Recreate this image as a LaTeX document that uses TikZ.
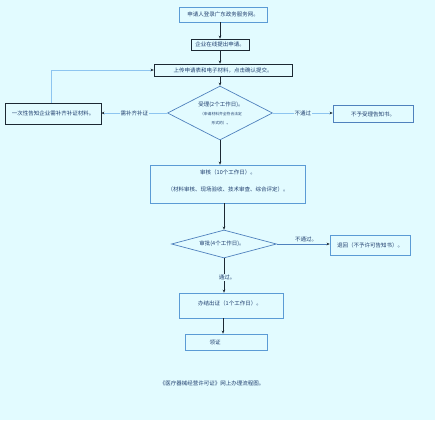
\documentclass[tikz,border=0pt]{standalone}
\usepackage{fontspec}
\setmainfont{Noto Sans CJK SC}
\usetikzlibrary{shapes.geometric,arrows.meta}
\definecolor{bg}{HTML}{E2FBFF}
\definecolor{darkb}{HTML}{1C2833}
\definecolor{lightb}{HTML}{5B9BD5}
\definecolor{diab}{HTML}{4F81BD}
\definecolor{paleline}{HTML}{8EC5F0}
\definecolor{txt}{HTML}{1F3E6E}
\tikzset{
  box/.style={draw=#1, line width=0.7pt, rectangle, inner sep=0pt, text=txt, font=\fontsize{5.5}{7}\selectfont},
  dia/.style={draw=diab, line width=0.7pt, diamond, inner sep=0pt},
  txtnode/.style={text=txt, inner sep=0.5pt, font=\fontsize{5.5}{7}\selectfont},
  smalltxt/.style={text=txt, inner sep=0pt, font=\fontsize{3.8}{5}\selectfont},
  lbl/.style={text=txt, fill=bg, inner sep=0.8pt, font=\fontsize{5.5}{7}\selectfont},
  arr/.style={draw=darkb, line width=0.7pt, -{Stealth[length=3pt,width=2.6pt]}},
  parr/.style={draw=paleline, line width=0.8pt, -{Stealth[length=3pt,width=2.6pt,color=darkb]}},
  barr/.style={draw=diab, line width=0.7pt, -{Stealth[length=3pt,width=2.6pt,color=darkb]}}
}
\begin{document}
\begin{tikzpicture}[x=1pt,y=-1pt]
\fill[bg] (0,0) rectangle (435,420);
\useasboundingbox (0,0) rectangle (435,420);

\node[box=lightb, minimum width=88pt, minimum height=15pt] (b1) at (223,14.5) {申请人登录广东政务服务网。};
\node[box=darkb, minimum width=58pt, minimum height=11pt] (b2) at (220,44.5) {企业在线提出申请。};
\node[box=darkb, minimum width=138pt, minimum height=12pt] (b3) at (223,70) {上传申请表和电子材料，点击确认提交。};

\node[dia, minimum width=105pt, minimum height=54pt] (d1) at (220,113) {};
\node[txtnode] (d1a) at (221,105) {受理(2个工作日)。};
\node[smalltxt] (d1b) at (221,114.5) {（申请材料齐全符合法定};
\node[smalltxt] (d1c) at (221,123) {形式的）。};

\node[box=darkb, minimum width=96pt, minimum height=21pt] (bl) at (53,113.5) {一次性告知企业需补齐补证材料。};
\node[box=diab, minimum width=80pt, minimum height=17pt] (br) at (373,114) {不予受理告知书。};

\node[box=lightb, minimum width=155pt, minimum height=38pt] (b4) at (227.5,184) {};
\node[txtnode] (b4a) at (228,172) {审核（10个工作日）。};
\node[txtnode] (b4b) at (228,189) {（材料审核、现场验收、技术审查、综合评定）。};

\node[dia, minimum width=105pt, minimum height=28pt] (d2) at (224,244) {};
\node[txtnode] (d2a) at (222,243.5) {审批(4个工作日)。};

\node[box=lightb, minimum width=80pt, minimum height=20pt] (br2) at (370,245) {退回（不予许可告知书）。};

\node[box=lightb, minimum width=104pt, minimum height=25pt] (b5) at (231,305.5) {};
\node[txtnode] (b5a) at (230,303) {办结出证（1个工作日）。};

\node[box=lightb, minimum width=82pt, minimum height=16pt] (b6) at (226,342) {};
\node[txtnode] (b6a) at (215,342) {领证};

\node[txtnode] (title) at (212,383) {《医疗器械经营许可证》网上办理流程图。};

% connectors
\draw[arr] (b1.south -| b2.north) -- (b2.north);
\draw[arr] (b2.south) -- (b2.south |- b3.north);
\draw[arr] (b3.south -| d1.north) -- (d1.north);
\draw[parr] (d1.west) -- node[lbl] (l1) {需补齐补证} (d1.west -| bl.east);
\draw[parr] (bl.north -| 51,0) |- (b3.west);
\draw[parr] (d1.east) -- node[lbl, pos=0.5] (l2) {不通过} (d1.east -| br.west);
\draw[arr] (b4.south -| d2.north) -- (d2.north);
\draw[arr] (d1.south) -- (d1.south |- b4.north);
\draw[barr] (d2.east) -- (d2.east -| br2.west);
\node[txtnode, anchor=south] (l3) at (306,243) {不通过。};
\draw[arr] (d2.south) -- node[lbl, pos=0.55, xshift=3pt] (l4) {通过。} (d2.south |- b5.north);
\draw[arr] (b5.south -| 223,0) -- (b6.north -| 223,0);
\end{tikzpicture}
\end{document}
